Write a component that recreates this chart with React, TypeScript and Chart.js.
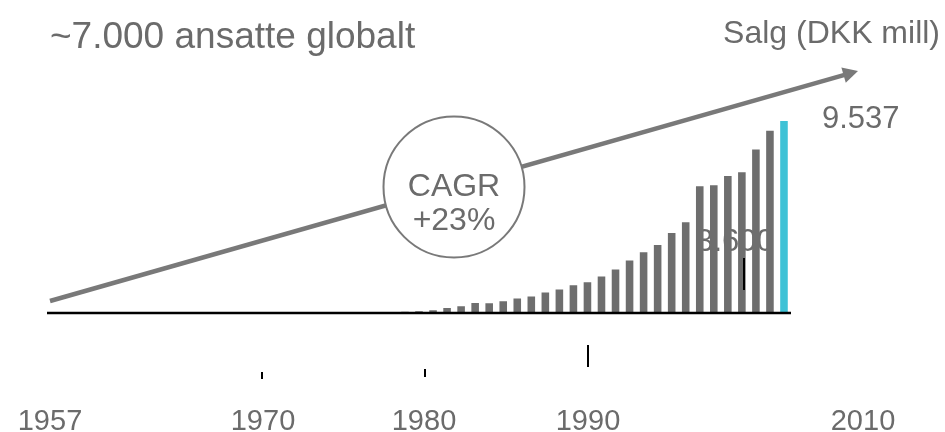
import React, { useEffect, useRef } from "react";
import { Chart, registerables } from "chart.js";

Chart.register(...registerables);

const years = [
  "1957", "1958", "1959", "1960", "1961", "1962", "1963", "1964", "1965", "1966",
  "1967", "1968", "1969", "1970", "1971", "1972", "1973", "1974", "1975", "1976",
  "1977", "1978", "1979", "1980", "1981", "1982", "1983", "1984", "1985", "1986",
  "1987", "1988", "1989", "1990", "1991", "1992", "1993", "1994", "1995", "1996",
  "1997", "1998", "1999", "2000", "2001", "2002", "2003", "2004", "2005", "2006",
  "2007", "2008", "2009",
];

const sales = [
  1, 1, 1, 2, 2, 2, 3, 3, 4, 4,
  5, 5, 6, 6, 7, 7, 8, 8, 9, 9,
  10, 11, 14, 30, 50, 67, 83, 133, 250, 333,
  499, 483, 582, 716, 815, 1015, 1165, 1381, 1531, 1814,
  2163, 2613, 3012, 3380, 3978, 4510, 6291, 6341, 6808, 6990,
  8122, 9054, 9537,
];

const axisYearLabels = ["1957", "1970", "1980", "1990", "2010"];
const titleText = "~7.000 ansatte globalt";
const unitText = "Salg (DKK mill)";
const lastValueText = "9.537";
const cagrLines = ["CAGR", "+23%"];
const hiddenLabel = "3.600";

const GRAY = "#6e6e6e";
const CYAN = "#3fc2d6";
const TEXT = "#6b6b6b";
const ARROW = "#797979";
const FONT = "'Liberation Sans', Arial, sans-serif";

const decorPlugin = {
  id: "decor",
  beforeDatasetsDraw(chart: any) {
    const ctx = chart.ctx;
    ctx.save();
    ctx.fillStyle = TEXT;
    ctx.font = `31px ${FONT}`;
    ctx.textAlign = "center";
    ctx.textBaseline = "alphabetic";
    ctx.fillText(hiddenLabel, 735, 251);
    ctx.restore();
  },
  afterDatasetsDraw(chart: any) {
    const ctx = chart.ctx;
    const area = chart.chartArea;
    const y0 = chart.scales.y.getPixelForValue(0);
    ctx.save();

    // baseline axis
    ctx.strokeStyle = "#000";
    ctx.lineWidth = 2.7;
    ctx.beginPath();
    ctx.moveTo(area.left, y0);
    ctx.lineTo(area.right, y0);
    ctx.stroke();

    // stray marks
    ctx.lineWidth = 2;
    const marks = [
      [744, 258, 744, 290],
      [262, 372, 262, 379],
      [425, 369, 425, 377],
      [588, 345, 588, 367],
    ];
    for (const m of marks) {
      ctx.beginPath();
      ctx.moveTo(m[0], m[1]);
      ctx.lineTo(m[2], m[3]);
      ctx.stroke();
    }

    // growth arrow
    const sx = 50, sy = 301, tx = 858, ty = 71;
    const dx = tx - sx, dy = ty - sy;
    const len = Math.sqrt(dx * dx + dy * dy);
    const ux = dx / len, uy = dy / len;
    const headLen = 15, headHalf = 8;
    const bx = tx - ux * headLen, by = ty - uy * headLen;
    ctx.strokeStyle = ARROW;
    ctx.fillStyle = ARROW;
    ctx.lineWidth = 4.5;
    ctx.beginPath();
    ctx.moveTo(sx, sy);
    ctx.lineTo(bx + ux * 2, by + uy * 2);
    ctx.stroke();
    ctx.beginPath();
    ctx.moveTo(tx, ty);
    ctx.lineTo(bx - uy * headHalf, by + ux * headHalf);
    ctx.lineTo(bx + uy * headHalf, by - ux * headHalf);
    ctx.closePath();
    ctx.fill();

    // CAGR circle
    ctx.beginPath();
    ctx.arc(454, 187, 70.5, 0, Math.PI * 2);
    ctx.fillStyle = "#fff";
    ctx.fill();
    ctx.strokeStyle = ARROW;
    ctx.lineWidth = 2;
    ctx.stroke();

    ctx.fillStyle = TEXT;
    ctx.textAlign = "center";
    ctx.textBaseline = "alphabetic";
    ctx.font = `32px ${FONT}`;
    ctx.fillText(cagrLines[0], 454, 196);
    ctx.fillText(cagrLines[1], 454, 230);

    // titles
    ctx.textAlign = "left";
    ctx.font = `37px ${FONT}`;
    ctx.fillText(titleText, 50, 48);
    ctx.textAlign = "right";
    ctx.font = `32px ${FONT}`;
    ctx.fillText(unitText, 940, 43);
    ctx.textAlign = "left";
    ctx.font = `31px ${FONT}`;
    ctx.fillText(lastValueText, 822, 128);

    // year labels
    const xs = [50, 263, 424, 588, 863];
    ctx.textAlign = "center";
    ctx.font = `29px ${FONT}`;
    axisYearLabels.forEach((t, i) => ctx.fillText(t, xs[i], 430));

    ctx.restore();
  },
};

export default function App() {
  const ref = useRef<HTMLCanvasElement>(null);
  useEffect(() => {
    if (!ref.current) return;
    const colors = sales.map((_, i) => (i === sales.length - 1 ? CYAN : GRAY));
    const chart = new Chart(ref.current, {
      type: "bar",
      data: {
        labels: years,
        datasets: [
          {
            data: sales,
            backgroundColor: colors,
            borderWidth: 0,
            categoryPercentage: 1,
            barPercentage: 0.54,
          },
        ],
      },
      options: {
        responsive: false,
        animation: false,
        events: [],
        layout: { padding: { left: 47, right: 154, top: 71.4, bottom: 119 } },
        plugins: { legend: { display: false }, tooltip: { enabled: false } },
        scales: {
          x: { display: false },
          y: { display: false, min: 0, max: 12000 },
        },
      },
      plugins: [decorPlugin],
    });
    return () => chart.destroy();
  }, []);
  return (
    <div style={{ position: "fixed", left: 0, top: 0, width: 945, height: 432, background: "#fff" }}>
      <canvas ref={ref} width={945} height={432} />
    </div>
  );
}
